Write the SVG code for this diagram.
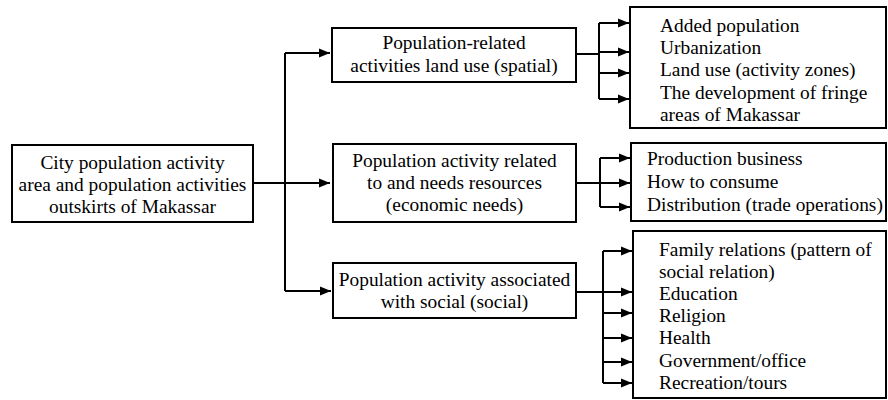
<svg xmlns="http://www.w3.org/2000/svg" width="888" height="400" viewBox="0 0 888 400">
<style>
.box{fill:#fff;stroke:#000;stroke-width:2}
.t{font-family:"Liberation Serif","Times New Roman",serif;font-size:19.4px;fill:#000}
.c{text-anchor:middle}
.ln{fill:none;stroke:#000;stroke-width:2}
</style>
<defs>
<marker id="ah" markerUnits="userSpaceOnUse" markerWidth="12" markerHeight="10" refX="11" refY="5" orient="auto">
<path d="M0,0.5 L11,5 L0,9.5 Z" fill="#000"/>
</marker>
</defs>
<g id="connectors">
<path class="ln" d="M253,183 H330" marker-end="url(#ah)"/>
<path class="ln" d="M285,53 V291"/>
<path class="ln" d="M285,53 H330" marker-end="url(#ah)"/>
<path class="ln" d="M285,291 H331" marker-end="url(#ah)"/>
<path class="ln" d="M576,54 H599 M599,23 V99"/>
<path class="ln" d="M599,23 H629" marker-end="url(#ah)"/>
<path class="ln" d="M599,52 H629" marker-end="url(#ah)"/>
<path class="ln" d="M599,73 H629" marker-end="url(#ah)"/>
<path class="ln" d="M599,99 H629" marker-end="url(#ah)"/>
<path class="ln" d="M576,183 H600 M600,158 V207"/>
<path class="ln" d="M600,158 H630" marker-end="url(#ah)"/>
<path class="ln" d="M600,183 H630" marker-end="url(#ah)"/>
<path class="ln" d="M600,207 H630" marker-end="url(#ah)"/>
<path class="ln" d="M576,292 H603 M603,251 V383"/>
<path class="ln" d="M603,251 H632" marker-end="url(#ah)"/>
<path class="ln" d="M603,292 H632" marker-end="url(#ah)"/>
<path class="ln" d="M603,313 H632" marker-end="url(#ah)"/>
<path class="ln" d="M603,338 H632" marker-end="url(#ah)"/>
<path class="ln" d="M603,362 H632" marker-end="url(#ah)"/>
<path class="ln" d="M603,383 H632" marker-end="url(#ah)"/>
</g>
<g id="root">
<rect class="box" x="12" y="145" width="241" height="77"/>
<text class="t c" x="132.5" y="169">City population activity</text>
<text class="t c" x="132.5" y="191">area and population activities</text>
<text class="t c" x="132.5" y="213">outskirts of Makassar</text>
</g>
<g id="spatial">
<rect class="box" x="332" y="28" width="244" height="54"/>
<text class="t c" x="454" y="49">Population-related</text>
<text class="t c" x="454" y="71.5">activities land use (spatial)</text>
</g>
<g id="economic">
<rect class="box" x="333" y="144" width="243" height="78"/>
<text class="t c" x="454.5" y="166.5">Population activity related</text>
<text class="t c" x="454.5" y="188.5">to and needs resources</text>
<text class="t c" x="454.5" y="210.5">(economic needs)</text>
</g>
<g id="social">
<rect class="box" x="333" y="263" width="243" height="55"/>
<text class="t c" x="454.5" y="286">Population activity associated</text>
<text class="t c" x="454.5" y="308">with social (social)</text>
</g>
<g id="spatial-items">
<rect class="box" x="630" y="7" width="256" height="121"/>
<text class="t" x="660" y="31.5">Added population</text>
<text class="t" x="660" y="54">Urbanization</text>
<text class="t" x="660" y="76">Land use (activity zones)</text>
<text class="t" x="660" y="98.5">The development of fringe</text>
<text class="t" x="660" y="120.5">areas of Makassar</text>
</g>
<g id="economic-items">
<rect class="box" x="631" y="143" width="255" height="78"/>
<text class="t" x="647" y="165">Production business</text>
<text class="t" x="647" y="188">How to consume</text>
<text class="t" x="647" y="211">Distribution (trade operations)</text>
</g>
<g id="social-items">
<rect class="box" x="633" y="231" width="253" height="167"/>
<text class="t" x="659" y="256">Family relations (pattern of</text>
<text class="t" x="659" y="278">social relation)</text>
<text class="t" x="659" y="300">Education</text>
<text class="t" x="659" y="322">Religion</text>
<text class="t" x="659" y="344">Health</text>
<text class="t" x="659" y="366.5">Government/office</text>
<text class="t" x="659" y="388.5">Recreation/tours</text>
</g>
</svg>
